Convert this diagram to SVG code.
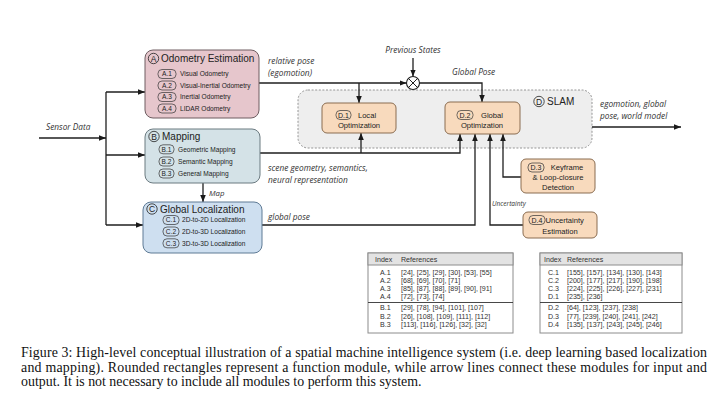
<svg xmlns="http://www.w3.org/2000/svg" width="720" height="401" viewBox="0 0 720 401">
<defs>
<marker id="ah" viewBox="0 0 10 10" refX="10" refY="5" markerWidth="7" markerHeight="7" markerUnits="userSpaceOnUse" orient="auto"><path d="M0,1 L10,5 L0,9 z" fill="#1a1a1a"/></marker>
<style>
.ln{fill:none;stroke:#1f1f1f;stroke-width:1.3}
.ar{marker-end:url(#ah)}
.lab{font-family:"Open Sans","Liberation Sans",sans-serif;font-style:italic;font-size:8.3px;fill:#333}
.tt{font-family:"Liberation Sans",Arial,sans-serif;font-size:10px;fill:#222}
.it{font-family:"Liberation Sans",Arial,sans-serif;font-size:6.6px;fill:#222}
.pill{fill:none;stroke:#333;stroke-width:0.7}
.pt{font-family:"Liberation Sans",Arial,sans-serif;font-size:6.6px;fill:#222;text-anchor:middle}
.cl{fill:none;stroke:#222;stroke-width:0.8}
.ct{font-family:"Liberation Sans",Arial,sans-serif;font-size:8.5px;fill:#222;text-anchor:middle}
.dbox{fill:#f8dabd;stroke:#8a6c50;stroke-width:1}
.dt{font-family:"Liberation Sans",Arial,sans-serif;font-size:7.6px;fill:#222;text-anchor:middle}
.tb{font-family:"Liberation Sans",Arial,sans-serif;font-size:7.1px;fill:#333}
.cap{font-family:"Liberation Serif","Times New Roman",serif;font-size:13.9px;fill:#111}
</style>
</defs>
<rect width="720" height="401" fill="#ffffff"/>

<!-- SLAM container -->
<g id="slam">
<rect x="298" y="90" width="294" height="58" rx="10" fill="#eeeeee" stroke="#8a8a8a" stroke-width="0.9" stroke-dasharray="2,1.6"/>
<circle class="cl" cx="539" cy="101.5" r="5.2"/><text class="ct" x="539" y="104.6" style="font-size:8.5px">D</text>
<text class="tt" x="547" y="105">SLAM</text>
</g>

<!-- connectors -->
<g id="connectors">
<line class="ln ar" x1="39" y1="138" x2="106" y2="138"/>
<line class="ln" x1="106" y1="92" x2="106" y2="225"/>
<line class="ln ar" x1="106" y1="92" x2="145" y2="92"/>
<line class="ln ar" x1="106" y1="155" x2="145" y2="155"/>
<line class="ln ar" x1="106" y1="225" x2="143" y2="225"/>
<line class="ln ar" x1="203" y1="183" x2="203" y2="202"/>
<line class="ln ar" x1="259" y1="83" x2="406.5" y2="83"/>
<line class="ln ar" x1="359" y1="83" x2="359" y2="103"/>
<line class="ln ar" x1="413" y1="58" x2="413" y2="76.5"/>
<polyline class="ln ar" points="419.5,83 482,83 482,102"/>
<polyline class="ln ar" points="260,153 460,153 460,134"/>
<line class="ln ar" x1="361" y1="153" x2="361" y2="133"/>
<polyline class="ln ar" points="262,225 475,225 475,134"/>
<polyline class="ln ar" points="523,225 490,225 490,134"/>
<polyline class="ln ar" points="521,177 503,177 503,134"/>
<line class="ln ar" x1="592" y1="127" x2="681" y2="127"/>
<circle cx="413" cy="83" r="6.5" fill="#ffffff" stroke="#1f1f1f" stroke-width="1.1"/>
<line x1="408.4" y1="78.4" x2="417.6" y2="87.6" stroke="#1f1f1f" stroke-width="1"/>
<line x1="417.6" y1="78.4" x2="408.4" y2="87.6" stroke="#1f1f1f" stroke-width="1"/>
</g>

<!-- connector labels -->
<g id="labels">
<text class="lab" x="46" y="130">Sensor Data</text>
<text class="lab" x="268" y="64">relative pose</text>
<text class="lab" x="268" y="76">(egomotion)</text>
<text class="lab" x="413" y="53" text-anchor="middle">Previous States</text>
<text class="lab" x="452" y="75">Global Pose</text>
<text class="lab" x="268" y="171">scene geometry, semantics,</text>
<text class="lab" x="268" y="183">neural representation</text>
<text class="lab" x="268" y="220">global pose</text>
<text class="lab" x="209" y="196" style="font-size:7.8px">Map</text>
<text class="lab" x="492" y="206" style="font-size:6.6px">Uncertainty</text>
<text class="lab" x="600" y="107">egomotion, global</text>
<text class="lab" x="600" y="119">pose, world model</text>
</g>

<!-- A -->
<g id="nodeA">
<rect x="145" y="50" width="114" height="68" rx="8" fill="#e6c6cc" stroke="#6e5d61" stroke-width="1"/>
<circle class="cl" cx="153.5" cy="58.5" r="5.2"/><text class="ct" x="153.5" y="61.6">A</text>
<text class="tt" x="161" y="62">Odometry Estimation</text>
<rect class="pill" x="158" y="69.5" width="18" height="9" rx="4"/><text class="pt" x="167" y="76.4">A.1</text><text class="it" x="180" y="76.4">Visual Odometry</text>
<rect class="pill" x="158" y="81" width="18" height="9" rx="4"/><text class="pt" x="167" y="87.9">A.2</text><text class="it" x="180" y="87.9">Visual-Inertial Odometry</text>
<rect class="pill" x="158" y="92.5" width="18" height="9" rx="4"/><text class="pt" x="167" y="99.4">A.3</text><text class="it" x="180" y="99.4">Inertial Odometry</text>
<rect class="pill" x="158" y="104" width="18" height="9" rx="4"/><text class="pt" x="167" y="110.9">A.4</text><text class="it" x="180" y="110.9">LIDAR Odometry</text>
</g>

<!-- B -->
<g id="nodeB">
<rect x="145" y="129" width="115" height="54" rx="8" fill="#d4e2e7" stroke="#6b7a80" stroke-width="1"/>
<circle class="cl" cx="154" cy="136.5" r="5.2"/><text class="ct" x="154" y="139.6">B</text>
<text class="tt" x="162" y="140">Mapping</text>
<rect class="pill" x="159" y="144.8" width="15" height="9" rx="4"/><text class="pt" x="166.5" y="151.7">B.1</text><text class="it" x="178" y="151.7">Geometric Mapping</text>
<rect class="pill" x="159" y="157" width="15" height="9" rx="4"/><text class="pt" x="166.5" y="163.9">B.2</text><text class="it" x="178" y="163.9">Semantic Mapping</text>
<rect class="pill" x="159" y="169" width="15" height="9" rx="4"/><text class="pt" x="166.5" y="175.9">B.3</text><text class="it" x="178" y="175.9">General Mapping</text>
</g>

<!-- C -->
<g id="nodeC">
<rect x="143" y="202" width="119" height="51" rx="8" fill="#cedff0" stroke="#5f7b95" stroke-width="1"/>
<circle class="cl" cx="152" cy="209" r="5.2"/><text class="ct" x="152" y="212.1">C</text>
<text class="tt" x="160" y="212.6">Global Localization</text>
<rect class="pill" x="163" y="215.5" width="16" height="9" rx="4"/><text class="pt" x="171" y="222.4">C.1</text><text class="it" x="182" y="222.4">2D-to-2D Localization</text>
<rect class="pill" x="163" y="227" width="16" height="9" rx="4"/><text class="pt" x="171" y="233.9">C.2</text><text class="it" x="182" y="233.9">2D-to-3D Localization</text>
<rect class="pill" x="163" y="238.8" width="16" height="9" rx="4"/><text class="pt" x="171" y="245.7">C.3</text><text class="it" x="182" y="245.7">3D-to-3D Localization</text>
</g>

<!-- D.1 -->
<g id="nodeD1">
<rect class="dbox" x="322" y="103" width="74" height="30" rx="5"/>
<rect class="pill" x="336" y="110.5" width="15" height="9" rx="4"/><text class="pt" x="343.5" y="117.6" style="font-size:7px">D.1</text>
<text class="dt" x="367" y="117.6">Local</text>
<text class="dt" x="359" y="128">Optimization</text>
</g>

<!-- D.2 -->
<g id="nodeD2">
<rect class="dbox" x="445" y="102" width="75" height="32" rx="5"/>
<rect class="pill" x="457" y="110.5" width="16" height="9" rx="4"/><text class="pt" x="465" y="117.6" style="font-size:7px">D.2</text>
<text class="dt" x="492" y="117.6">Global</text>
<text class="dt" x="482" y="128">Optimization</text>
</g>

<!-- D.3 -->
<g id="nodeD3">
<rect class="dbox" x="521" y="159" width="74" height="34" rx="5"/>
<rect class="pill" x="528" y="163" width="16" height="9" rx="4"/><text class="pt" x="536" y="170" style="font-size:7px">D.3</text>
<text class="dt" x="567" y="170">Keyframe</text>
<text class="dt" x="558" y="180">&amp; Loop-closure</text>
<text class="dt" x="558" y="190">Detection</text>
</g>

<!-- D.4 -->
<g id="nodeD4">
<rect class="dbox" x="523" y="212" width="74" height="26" rx="5"/>
<rect class="pill" x="529" y="215.5" width="16" height="9" rx="4"/><text class="pt" x="537" y="222.5" style="font-size:7px">D.4</text>
<text class="dt" x="545.5" y="222.5" style="text-anchor:start">Uncertainty</text>
<text class="dt" x="560" y="233.5">Estimation</text>
</g>

<!-- Table 1 -->
<g id="table1">
<rect x="368" y="253" width="145" height="80" fill="#ffffff" stroke="#8c8c8c" stroke-width="1"/>
<rect x="368" y="253" width="145" height="12" fill="#e3e3e3" stroke="#8c8c8c" stroke-width="1"/>
<line x1="368" y1="302.5" x2="513" y2="302.5" stroke="#333" stroke-width="0.9"/>
<text class="tb" x="375" y="261.5">Index</text><text class="tb" x="401" y="261.5">References</text>
<text class="tb" x="380" y="275">A.1</text><text class="tb" x="401" y="275">[24], [25], [29], [30], [53], [55]</text>
<text class="tb" x="380" y="283">A.2</text><text class="tb" x="401" y="283">[68], [69], [70], [71]</text>
<text class="tb" x="380" y="291">A.3</text><text class="tb" x="401" y="291">[85], [87], [88], [89], [90], [91]</text>
<text class="tb" x="380" y="299">A.4</text><text class="tb" x="401" y="299">[72], [73], [74]</text>
<text class="tb" x="380" y="310">B.1</text><text class="tb" x="401" y="310">[29], [78], [94], [101], [107]</text>
<text class="tb" x="380" y="318.5">B.2</text><text class="tb" x="401" y="318.5">[26], [108], [109], [111], [112]</text>
<text class="tb" x="380" y="327">B.3</text><text class="tb" x="401" y="327">[113], [116], [126], [32], [32]</text>
</g>

<!-- Table 2 -->
<g id="table2">
<rect x="540" y="253" width="142" height="80" fill="#ffffff" stroke="#8c8c8c" stroke-width="1"/>
<rect x="540" y="253" width="142" height="12" fill="#e3e3e3" stroke="#8c8c8c" stroke-width="1"/>
<line x1="540" y1="302.5" x2="682" y2="302.5" stroke="#333" stroke-width="0.9"/>
<text class="tb" x="544" y="261.5">Index</text><text class="tb" x="567" y="261.5">References</text>
<text class="tb" x="548" y="275">C.1</text><text class="tb" x="567" y="275">[155], [157], [134], [130], [143]</text>
<text class="tb" x="548" y="283">C.2</text><text class="tb" x="567" y="283">[200], [177], [217], [190], [198]</text>
<text class="tb" x="548" y="291">C.3</text><text class="tb" x="567" y="291">[224], [225], [226], [227], [231]</text>
<text class="tb" x="548" y="299">D.1</text><text class="tb" x="567" y="299">[235], [236]</text>
<text class="tb" x="548" y="310">D.2</text><text class="tb" x="567" y="310">[64], [123], [237], [238]</text>
<text class="tb" x="548" y="318.5">D.3</text><text class="tb" x="567" y="318.5">[77], [239], [240], [241], [242]</text>
<text class="tb" x="548" y="327">D.4</text><text class="tb" x="567" y="327">[135], [137], [243], [245], [246]</text>
</g>

<!-- Caption -->
<g id="caption">
<text class="cap" x="21" y="357" textLength="686" lengthAdjust="spacing">Figure 3: High-level conceptual illustration of a spatial machine intelligence system (i.e. deep learning based localization</text>
<text class="cap" x="21" y="371.5" textLength="686" lengthAdjust="spacing">and mapping). Rounded rectangles represent a function module, while arrow lines connect these modules for input and</text>
<text class="cap" x="21" y="386">output. It is not necessary to include all modules to perform this system.</text>
</g>
</svg>
